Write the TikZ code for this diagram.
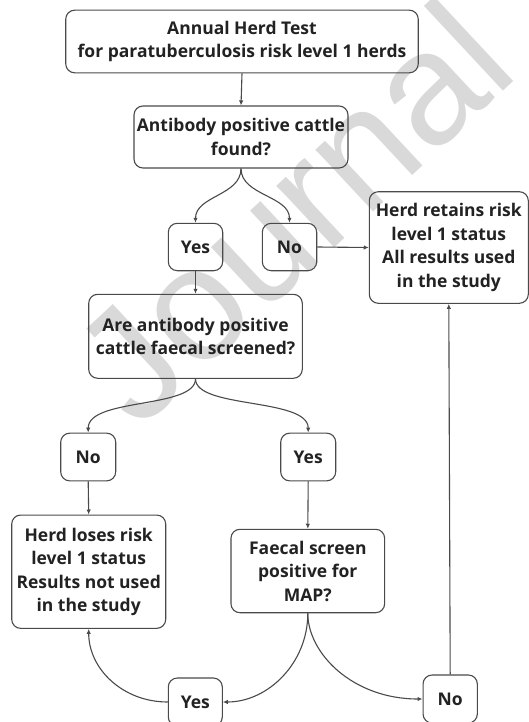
\documentclass[tikz,border=0pt]{standalone}
\usepackage{fontspec}
\setmainfont{Open Sans}
\newfontfamily\wmfont{Liberation Sans}
\usetikzlibrary{arrows.meta}
\definecolor{linec}{HTML}{4A4A4A}
\definecolor{txtc}{HTML}{222222}
\definecolor{wmc}{HTML}{D9D9D9}
\begin{document}
\begin{tikzpicture}[x=1pt,y=-1pt,
  box/.style={draw=linec, rounded corners=9pt, line width=1.1pt, text=txtc, align=center,
    inner sep=0pt, font=\bfseries\fontsize{17.5}{23.5}\selectfont},
  conn/.style={draw=linec, line width=1.1pt, -{Latex[length=5pt,width=4.5pt]}}]
\useasboundingbox (0,0) rectangle (529,722);
\clip (0,0) rectangle (529,722);
\fill[white] (0,0) rectangle (529,722);
\node[rotate=43, anchor=base west, inner sep=0pt, text=wmc,
  font=\wmfont\fontsize{160}{160}\selectfont] (wm) at (138,432) {Journal};

\node[box, minimum width=352.5pt, minimum height=62.7pt] (top) at (242,41.5)
  {Annual Herd Test\\for paratuberculosis risk level 1 herds};
\node[box, minimum width=214pt, minimum height=62pt] (ab) at (241,137)
  {Antibody positive cattle\\found?};
\node[box, minimum width=54.4pt, minimum height=47.4pt] (yes1) at (195.5,247) {Yes};
\node[box, minimum width=54.4pt, minimum height=47.4pt] (no1) at (289.5,247) {No};
\node[box, minimum width=159pt, minimum height=111.6pt] (ret) at (448.8,247.5)
  {Herd retains risk\\level 1 status\hspace*{17pt}\\All results used\\in the study};
\node[box, minimum width=213.6pt, minimum height=84pt] (are) at (195.5,336.3)
  {Are antibody positive\\cattle faecal screened?};
\node[box, minimum width=55pt, minimum height=47.7pt] (no2) at (88.2,457) {No};
\node[box, minimum width=55pt, minimum height=47.7pt] (yes2) at (308.2,457) {Yes};
\node[box, minimum width=154pt, minimum height=113.3pt] (loses) at (88.7,571.7)
  {Herd loses risk\\level 1 status\\Results not used\\in the study};
\node[box, minimum width=153.7pt, minimum height=83.4pt] (faecal) at (307.8,571)
  {Faecal screen\\positive for\\MAP?};
\node[box, minimum width=54pt, minimum height=48pt] (yes3) at (195.3,702) {Yes};
\node[box, minimum width=54.3pt, minimum height=48pt] (no3) at (450.2,699) {No};

\draw[conn] (top.south) -- (ab.north);
\draw[conn] (ab.south) .. controls +(0,27) and +(0,-27) .. (yes1.north);
\draw[conn] (ab.south) .. controls +(0,27) and +(0,-27) .. (no1.north);
\draw[conn] (no1.east) -- (ret.west);
\draw[conn] (yes1.south) -- (are.north);
\draw[conn] (are.south) .. controls +(0,30) and +(0,-35) .. (no2.north);
\draw[conn] (are.south) .. controls +(0,30) and +(0,-35) .. (yes2.north);
\draw[conn] (no2.south) -- (loses.north);
\draw[conn] (yes2.south) -- (faecal.north);
\draw[conn] (faecal.south) .. controls +(0,50) and +(45,0) .. (yes3.east);
\draw[conn] (faecal.south) .. controls +(0,40) and +(-70,0) .. (no3.west);
\draw[conn] (yes3.west) .. controls +(-45,0) and +(0,40) .. (loses.south);
\draw[conn] (no3.north) -- (ret.south);
\end{tikzpicture}
\end{document}
